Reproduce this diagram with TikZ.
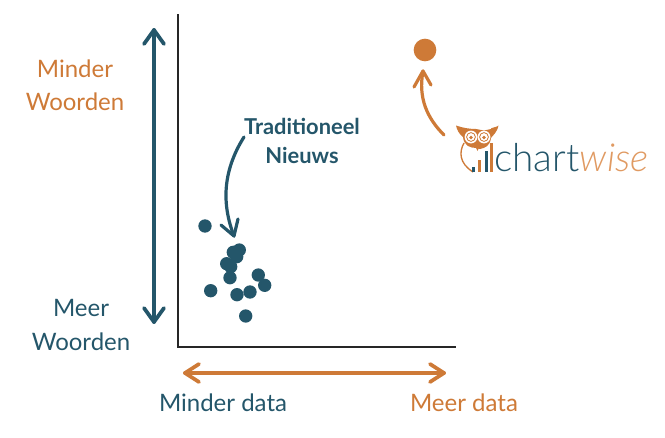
\documentclass[tikz,border=0pt]{standalone}
\usepackage{fontspec}
\setmainfont{Lato}
\newfontfamily\latolight{Lato Light}
\definecolor{navy}{HTML}{24566A}
\definecolor{rust}{HTML}{CE7A37}
\definecolor{rustl}{HTML}{E09A62}
\tikzset{
 lab/.style={font=\fontsize{18}{20}\selectfont,align=center,inner sep=0pt},
 dot/.style={circle,fill=navy,minimum size=10pt,inner sep=0pt},
 dbl/.style={line width=2.8pt,line cap=round,line join=round},
 crv/.style={line width=2.4pt,line cap=round,line join=round},
}
\begin{document}
\begin{tikzpicture}[x=0.75pt,y=-0.75pt]
\useasboundingbox (0,0) rectangle (665,437);
% axes
\coordinate (yt) at (178,14); \coordinate (o) at (178,347); \coordinate (xr) at (456,347);
\draw[line width=1.5pt,black!85] (yt) -- (o) -- (xr);
% vertical double arrow
\coordinate (va) at (154,30); \coordinate (vb) at (154,322);
\draw[dbl,navy] (va) -- (vb);
\draw[dbl,navy] (144,44) -- (va) -- (164,44);
\draw[dbl,navy] (144,308) -- (vb) -- (164,308);
% horizontal double arrow
\coordinate (ha) at (185,373); \coordinate (hb) at (444,373);
\draw[dbl,rust] (ha) -- (hb);
\draw[dbl,rust] (199,364) -- (ha) -- (199,382);
\draw[dbl,rust] (430,364) -- (hb) -- (430,382);
% labels
\node[lab,text=rust] (mw) at (75,85) {Minder\\[5pt]Woorden};
\node[lab,text=navy] (ow) at (81,325) {Meer\\[5pt]Woorden};
\node[lab,text=navy] (md) at (223,403) {Minder data};
\node[lab,text=rust] (rd) at (464,403) {Meer data};
\node[lab,text=navy,font=\fontsize{16.4}{20}\selectfont\bfseries] (tn) at (302,141) {Traditioneel\\[2pt]Nieuws};
% dots
\foreach \n/\x/\y in {a/205/226,b/210.7/290.7,c/237/294.7,d/250/292,e/264.7/285.3,f/258.3/275,g/245.7/316,h/230/277.7,i/226.7/263.7,j/230.7/266.7,k/233.3/252.3,l/239.3/250,m/236.7/256.7}
  \node[dot] (d\n) at (\x,\y) {};
% curved arrow to cluster
\coordinate (ct) at (244,137); \coordinate (cb) at (234,236);
\draw[crv,navy] (ct) .. controls (222,172) and (222,205) .. (cb);
\draw[crv,navy] (221,225) -- (cb) -- (238,219);
% orange dot
\node[circle,fill=rust,minimum size=17pt,inner sep=0pt] (od) at (425,50) {};
\coordinate (lt) at (444,135); \coordinate (lb) at (423,71);
\draw[crv,rust] (lt) .. controls (427,118) and (418,98) .. (lb);
\draw[crv,rust] (414,87) -- (lb) -- (431,85);
% logo owl
\begin{scope}[rust]
 \fill[rust] (456,125.5) .. controls (463,128) and (470,129) .. (476,129) -- (484,130.5) -- (491,129) .. controls (489,128) and (498,127) .. (498.5,125.5) .. controls (497,133) and (492,136) .. (491,138) .. controls (490,146) and (485,148) .. (480,149) -- (477,148) .. controls (470,148) and (464,146) .. (463,137) .. controls (459,134) and (457,130) .. (456,125.5) -- cycle;
 \fill[white] (471,137) circle (6.4);
 \fill[white] (484,137) circle (6.4);
 \draw[line width=.6pt] (471,137) circle (4.4) (484,137) circle (4.4);
 \fill (471,137.5) circle (1.9) (484,137.5) circle (1.9);
 \fill (474.5,144.5) -- (480.5,144.5) -- (477.5,151) -- cycle;
 \draw[line width=1pt] (464,143) .. controls (459,152) and (459,163) .. (473,172);
 \fill[navy] (472,166.5) rectangle (475,171.5);
 \fill[rust] (478,160) rectangle (481,171.5);
 \fill[navy] (484.5,151) rectangle (487.5,171.5);
 \fill[rust] (489.5,143) rectangle (492.5,171.5);
\end{scope}
\node[inner sep=0pt,anchor=base west,text=navy,font=\fontsize{29}{30}\selectfont\latolight] (cw) at (494,171) {chart};
\node[inner sep=0pt,anchor=base west,text=rustl,font=\fontsize{29}{30}\selectfont\latolight\itshape] (ws) at (cw.base east) {wise};
\end{tikzpicture}
\end{document}
